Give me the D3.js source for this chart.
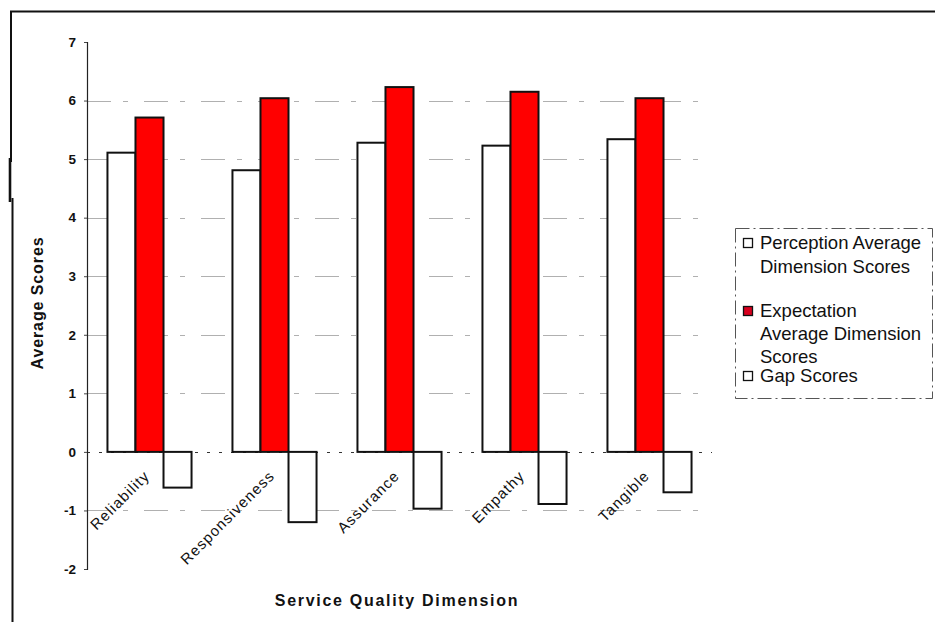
<!DOCTYPE html>
<html>
<head>
<meta charset="utf-8">
<script src="https://cdn.jsdelivr.net/npm/d3@7"></script>
<style>
  html, body { margin: 0; padding: 0; background: #fff; }
  svg { display: block; font-family: "Liberation Sans", Arial, sans-serif; }
</style>
</head>
<body>
<svg id="chart" width="935" height="622"></svg>
<script>
// Service quality dimensions and their average scores
const categories = ["Reliability", "Responsiveness", "Assurance", "Empathy", "Tangible"];
const seriesNames = ["Perception Average Dimension Scores", "Expectation Average Dimension Scores", "Gap Scores"];
const perception = [5.11, 4.81, 5.28, 5.23, 5.34];
const expectation = [5.71, 6.04, 6.23, 6.15, 6.04];
const gap = [-0.61, -1.20, -0.97, -0.89, -0.69];
const yTicks = [-2, -1, 0, 1, 2, 3, 4, 5, 6, 7];
const xLabels = ["Reliability", "Responsiveness", "Assurance", "Empathy", "Tangible"];
const legendLines = [["Perception Average", "Dimension Scores"], ["Expectation", "Average Dimension", "Scores"], ["Gap Scores"]];
const seriesFill = ["#ffffff", "#ff0000", "#ffffff"];

const svg = d3.select("#chart");

// outer frame
svg.append("path")
  .attr("d", "M10,11.5 H935 M11,11 V162 M12.5,198 V622")
  .attr("fill", "none").attr("stroke", "#111").attr("stroke-width", 2);
svg.append("path")
  .attr("d", "M10,158 V202")
  .attr("stroke", "#111").attr("stroke-width", 2.6);

const plot = { left: 87, right: 712, top: 42, bottom: 569 };

const y = d3.scaleLinear().domain([-2, 7]).range([plot.bottom, plot.top]);
const x0 = d3.scaleBand().domain(categories).range([plot.left, plot.right]).padding(0);
const x1 = d3.scaleBand().domain(d3.range(3)).range([0, x0.bandwidth()])
  .paddingInner(0).paddingOuter(0.73);

// horizontal grid lines
svg.append("g")
  .selectAll("line")
  .data(yTicks.filter(t => t !== 0 && t !== -2 && t !== 7))
  .join("line")
  .attr("x1", plot.left).attr("x2", plot.right)
  .attr("y1", d => Math.round(y(d)) + 0.5).attr("y2", d => Math.round(y(d)) + 0.5)
  .attr("stroke", "#b0b0b0").attr("stroke-width", 1)
  .attr("stroke-dasharray", "24,12,5,16");

// zero line
svg.append("line")
  .attr("x1", plot.left).attr("x2", plot.right)
  .attr("y1", Math.round(y(0)) + 0.5).attr("y2", Math.round(y(0)) + 0.5)
  .attr("stroke", "#333").attr("stroke-width", 1)
  .attr("stroke-dasharray", "3,9");

// bars
const rows = categories.map((c, i) => ({ c, vals: [perception[i], expectation[i], gap[i]] }));
const groups = svg.append("g").selectAll("g")
  .data(rows).join("g")
  .attr("transform", d => `translate(${x0(d.c)},0)`);
groups.selectAll("rect")
  .data(d => d.vals.map((v, k) => ({ v, k })))
  .join("rect")
  .attr("x", d => x1(d.k))
  .attr("width", x1.bandwidth())
  .attr("y", d => y(Math.max(0, d.v)))
  .attr("height", d => Math.abs(y(d.v) - y(0)))
  .attr("fill", d => seriesFill[d.k])
  .attr("stroke", "#111").attr("stroke-width", 2);

// y axis
const yAxis = d3.axisLeft(y).tickValues(yTicks).tickSize(3)
  .tickFormat(d => (d < 0 ? "-" : "") + Math.abs(d));
const gy = svg.append("g").attr("transform", `translate(${plot.left},0)`).call(yAxis);
gy.select(".domain").attr("stroke", "#222").attr("stroke-width", 1.2);
gy.selectAll(".tick line").attr("stroke", "#444");
gy.selectAll(".tick text")
  .attr("x", -11)
  .attr("font-size", 13.5).attr("font-weight", "bold").attr("fill", "#111")
  .attr("font-family", "Liberation Sans, Arial, sans-serif");

// category labels
svg.append("g").selectAll("text")
  .data(categories)
  .join("text")
  .attr("transform", d => `translate(${x0(d) + x0.bandwidth() / 2 + 1},${y(0) + 25}) rotate(-45)`)
  .attr("text-anchor", "end")
  .attr("font-size", 15).attr("letter-spacing", 1.1).attr("fill", "#111")
  .text((d, i) => xLabels[i]);

// axis titles
svg.append("text")
  .attr("transform", `translate(43,303) rotate(-90)`)
  .attr("text-anchor", "middle")
  .attr("font-size", 16).attr("font-weight", "bold").attr("fill", "#111")
  .attr("letter-spacing", 0.9)
  .text("Average Scores");
svg.append("text")
  .attr("x", 397).attr("y", 606)
  .attr("text-anchor", "middle")
  .attr("font-size", 16).attr("font-weight", "bold").attr("fill", "#111")
  .attr("letter-spacing", 1.7)
  .text("Service Quality Dimension");

// legend
const legend = svg.append("g");
legend.append("rect")
  .attr("x", 735.5).attr("y", 228.5).attr("width", 197).attr("height", 170)
  .attr("fill", "none").attr("stroke", "#555").attr("stroke-width", 1)
  .attr("stroke-dasharray", "14,4,2,4");
const legendBase = [[249, 273], [317, 340, 363], [382]];
legendLines.forEach((lines, k) => {
  legend.append("rect")
    .attr("x", 743.5).attr("y", legendBase[k][0] - 10.5).attr("width", 9).attr("height", 9)
    .attr("fill", k === 1 ? "#d8001e" : "#fff")
    .attr("stroke", "#111").attr("stroke-width", 1.3);
  lines.forEach((t, j) => {
    legend.append("text")
      .attr("x", 760).attr("y", legendBase[k][j])
      .attr("font-size", 18.5).attr("fill", "#111")
      .text(t);
  });
});
</script>
</body>
</html>
